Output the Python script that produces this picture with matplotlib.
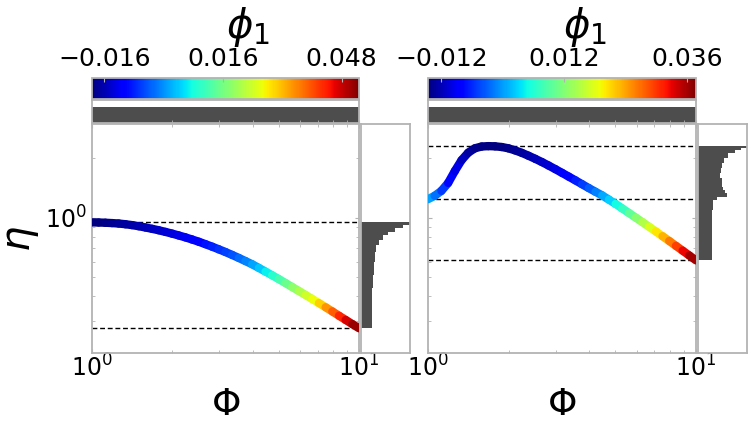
import numpy as np
import matplotlib
matplotlib.use("Agg")
import matplotlib.pyplot as plt
import matplotlib.transforms as mtransforms
from matplotlib.collections import LineCollection
from matplotlib.colors import Normalize
from matplotlib.cm import ScalarMappable
from matplotlib.ticker import NullFormatter, LogLocator

# ---------------- data ----------------
Phi_grid = [1.000, 1.059, 1.122, 1.189, 1.259, 1.334, 1.413, 1.496, 1.585, 1.679,
            1.778, 1.884, 1.995, 2.113, 2.239, 2.371, 2.512, 2.661, 2.818, 2.985,
            3.162, 3.350, 3.548, 3.758, 3.981, 4.217, 4.467, 4.732, 5.012, 5.309,
            5.623, 5.957, 6.310, 6.683, 7.079, 7.499, 7.943, 8.414, 8.913, 9.441, 10.0]

# Left panel curve
Phi_left = Phi_grid
eta_left = [0.9460, 0.9445, 0.9419, 0.9380, 0.9333, 0.9256, 0.9162, 0.9045, 0.8913,
            0.8774, 0.8630, 0.8466, 0.8299, 0.8123, 0.7943, 0.7750, 0.7551, 0.7340,
            0.7129, 0.6914, 0.6699, 0.6475, 0.6252, 0.6028, 0.5808, 0.5568, 0.5333,
            0.5107, 0.4887, 0.4667, 0.4457, 0.4256, 0.4064, 0.3877, 0.3698, 0.3524,
            0.3357, 0.3194, 0.3041, 0.2897, 0.2761]
phi1_left = [-0.0193, -0.01916, -0.01894, -0.01844, -0.01786, -0.01736, -0.01678,
             -0.01628, -0.0157, -0.0152, -0.01462, -0.01412, -0.01354, -0.01282,
             -0.0121, -0.01138, -0.01066, -0.00958, -0.0085, -0.00742, -0.00634,
             -0.0049, -0.00346, -0.00166, 0.00014, 0.00266, 0.00518, 0.00806,
             0.01094, 0.01382, 0.0167, 0.01958, 0.02246, 0.02534, 0.02822, 0.03254,
             0.03686, 0.04118, 0.0455, 0.0491, 0.0527]

# Right panel curve
Phi_right = Phi_grid
eta_right = [1.2388, 1.2882, 1.3646, 1.4962, 1.7179, 1.9498, 2.1281, 2.2387, 2.2856,
             2.2961, 2.2909, 2.2725, 2.2387, 2.1852, 2.1232, 2.0535, 1.9815, 1.9078,
             1.8323, 1.7572, 1.6827, 1.6106, 1.5417, 1.4740, 1.4093, 1.3499, 1.2942,
             1.2323, 1.1722, 1.1117, 1.0544, 1.0000, 0.9484, 0.8985, 0.8511, 0.8054,
             0.7621, 0.7200, 0.6808, 0.6434, 0.6081]
phi1_right = [0.00164, -0.00098, -0.0036, -0.00674, -0.00884, -0.01093, -0.0125,
              -0.01355, -0.01408, -0.0146, -0.0146, -0.01444, -0.01408, -0.01371,
              -0.0133, -0.01277, -0.01224, -0.01161, -0.01093, -0.01015, -0.00936,
              -0.00831, -0.00726, -0.00569, -0.00412, -0.00229, -0.00045, 0.00164,
              0.00374, 0.0061, 0.00846, 0.01108, 0.0137, 0.01632, 0.01894, 0.02182,
              0.0247, 0.02784, 0.03099, 0.0344, 0.0378]

# Marginal histograms of eta (bin edges, relative counts)
hist_left_edges = [0.2757, 0.3219, 0.3756, 0.4389, 0.5125, 0.5979, 0.6719, 0.7262,
                   0.7698, 0.8157, 0.8478, 0.8820, 0.9166, 0.9457]
hist_left_counts = [22, 22, 23, 24, 26, 28, 31, 36, 44, 56, 70, 85, 100]

hist_right_edges = [0.6077, 0.6851, 0.7698, 0.8648, 0.9714, 1.0911, 1.2258, 1.2737,
                    1.3252, 1.3770, 1.4312, 1.4888, 1.5776, 1.6720, 1.7720, 1.8778,
                    1.9907, 2.1101, 2.1928, 2.2367, 2.2967]
hist_right_counts = [28, 28, 28.5, 28.5, 29, 30, 38, 59, 55, 52, 49, 48, 45, 47, 48,
                     53, 62, 76, 88, 100]

# Top marginal histogram of Phi (uniform in log Phi)
hist_top_edges = [1.0, 1.259, 1.585, 1.995, 2.512, 3.162, 3.981, 5.012, 6.310, 7.943, 10.0]
hist_top_counts = [50, 50, 50, 50, 50, 50, 50, 50, 50, 50]

cbar_ticks_left = [-0.016, 0.016, 0.048]
cbar_ticks_right = [-0.012, 0.012, 0.036]
cbar_ticklabels_left = ["\u22120.016", "0.016", "0.048"]
cbar_ticklabels_right = ["\u22120.012", "0.012", "0.036"]

# ---------------- figure ----------------
W, H = 751, 423
fig = plt.figure(figsize=(W / 100, H / 100), dpi=100)
SPINE = "#b3b3b3"
HISTC = "#4d4d4d"


def rect(x0, y0, x1, y1):
    return [x0 / W, 1 - y1 / H, (x1 - x0) / W, (y1 - y0) / H]


def style_spines(ax):
    for s in ax.spines.values():
        s.set_color(SPINE)
        s.set_linewidth(1.3)


def panel(xoff, Phi, eta, phi1, hedges, hcounts, cticks, cticklabels, show_ylabel):
    w_main = 267 if xoff == 92 else 268
    ax = fig.add_axes(rect(xoff, 124, xoff + w_main, 353))
    axr = fig.add_axes(rect(xoff + w_main + 2, 124, xoff + w_main + 51, 353))
    axt = fig.add_axes(rect(xoff, 100, xoff + w_main, 123))
    cax = fig.add_axes(rect(xoff, 78, xoff + w_main, 99))

    norm = Normalize(vmin=min(phi1), vmax=max(phi1))
    cmap = plt.get_cmap("jet")

    P = np.asarray(Phi)
    E = np.asarray(eta)
    C = np.asarray(phi1)
    pts = np.column_stack([P, E]).reshape(-1, 1, 2)
    segs = np.concatenate([pts[:-1], pts[1:]], axis=1)
    lc = LineCollection(segs, cmap=cmap, norm=norm, linewidths=6,
                        capstyle="round", joinstyle="round", zorder=3)
    lc.set_array(0.5 * (C[:-1] + C[1:]))

    ax.set_xscale("log")
    ax.set_yscale("log")
    ax.add_collection(lc)
    ax.set_xlim(1, 10)
    ax.set_ylim(0.207, 2.97)

    # dashed reference lines
    for v in sorted(set([max(eta), min(eta), eta[0]])):
        ax.axhline(v, color="k", ls="--", lw=1, dashes=(3.5, 2), zorder=1)

    ax.xaxis.set_minor_formatter(NullFormatter())
    ax.yaxis.set_minor_formatter(NullFormatter())
    ax.yaxis.set_major_locator(LogLocator(base=10))
    ax.tick_params(which="both", direction="in", color=SPINE, labelsize=17,
                   top=True, right=True)
    ax.tick_params(which="major", length=3)
    ax.tick_params(which="minor", length=2)
    ax.tick_params(axis="x", pad=1)
    ax.tick_params(axis="y", pad=4)
    if not show_ylabel:
        ax.tick_params(labelleft=False)
    else:
        ax.set_ylabel(r"$\eta$", fontsize=29, labelpad=3)
    ax.set_xlabel(r"$\Phi$", fontsize=27, labelpad=4)
    style_spines(ax)

    # right marginal histogram
    axr.set_yscale("log")
    axr.set_ylim(ax.get_ylim())
    axr.stairs(hcounts, hedges, orientation="horizontal", fill=True, color=HISTC)
    axr.set_xlim(0, max(hcounts))
    axr.set_xticks([])
    axr.yaxis.set_minor_formatter(NullFormatter())
    axr.tick_params(which="both", left=False, right=False, labelleft=False)
    style_spines(axr)

    # top marginal histogram
    axt.set_xscale("log")
    axt.set_xlim(1, 10)
    axt.stairs(hist_top_counts, hist_top_edges, fill=True, color=HISTC)
    axt.set_ylim(0, max(hist_top_counts) * 1.45)
    axt.set_yticks([])
    axt.xaxis.set_minor_formatter(NullFormatter())
    axt.tick_params(which="both", direction="in", color=SPINE, labelbottom=False,
                    length=2)
    style_spines(axt)

    # colorbar
    sm = ScalarMappable(norm=norm, cmap=cmap)
    cb = fig.colorbar(sm, cax=cax, orientation="horizontal", ticklocation="top")
    cb.set_ticks(cticks)
    cb.set_ticklabels(cticklabels)
    cb.outline.set_edgecolor(SPINE)
    cb.outline.set_linewidth(1.3)
    cax.tick_params(labelsize=18, direction="in", length=3, color=SPINE, pad=5)
    tr = cax.transAxes + mtransforms.ScaledTranslation(0, 0.29, fig.dpi_scale_trans)
    cax.text(0.586, 1.0, r"$\phi_1$", transform=tr, fontsize=29,
             ha="center", va="bottom")
    return ax, cax


panel(92, Phi_left, eta_left, phi1_left, hist_left_edges, hist_left_counts,
      cbar_ticks_left, cbar_ticklabels_left, True)
panel(428, Phi_right, eta_right, phi1_right, hist_right_edges, hist_right_counts,
      cbar_ticks_right, cbar_ticklabels_right, False)

fig.savefig("out.png", dpi=100)
